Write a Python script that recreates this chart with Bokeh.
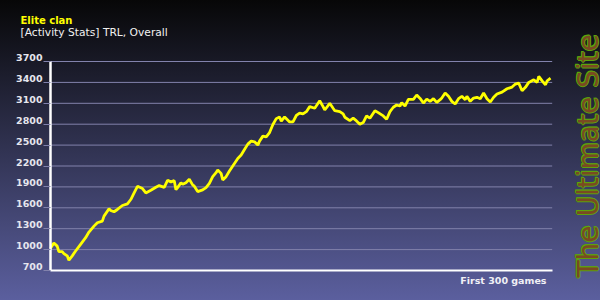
import math
from bokeh.plotting import figure
from bokeh.models import Range1d, LinearAxis, FixedTicker, Label, ColumnDataSource
from bokeh.embed import file_html
from bokeh.resources import INLINE

# ---- data ----
games = [1, 3, 5, 6, 8, 9, 11, 12, 14, 16, 19, 22, 24, 27, 29, 32, 33, 36, 37, 39,
         41, 44, 47, 49, 51, 53, 56, 58, 61, 64, 66, 69, 71, 73, 75, 76, 77, 79, 80, 82,
         84, 86, 87, 89, 92, 94, 96, 98, 100, 101, 103, 104, 106, 108, 111, 113, 115, 117, 119, 121,
         123, 125, 126, 128, 130, 132, 134, 136, 138, 139, 141, 144, 146, 148, 150, 152, 154, 156, 159, 162,
         164, 165, 168, 170, 171, 174, 176, 177, 180, 182, 184, 186, 188, 190, 192, 195, 197, 200, 202, 204,
         206, 208, 210, 211, 213, 215, 218, 220, 222, 224, 226, 228, 230, 232, 234, 235, 237, 239, 241, 243,
         245, 247, 249, 250, 252, 254, 256, 258, 260, 262, 264, 266, 268, 271, 274, 277, 279, 281, 283, 285,
         287, 290, 292, 293, 295, 297, 298, 300]
rating = [1020, 1095, 1050, 970, 970, 943, 910, 847, 910, 980, 1076, 1171, 1252, 1337, 1386, 1409, 1480, 1586, 1562, 1543,
          1576, 1633, 1657, 1719, 1814, 1909, 1876, 1814, 1852, 1894, 1919, 1894, 1995, 1972, 1990, 1860, 1890, 1960, 1937, 1961,
          2009, 1929, 1910, 1833, 1857, 1890, 1951, 2047, 2104, 2143, 2094, 2000, 2047, 2128, 2237, 2309, 2357, 2437, 2514, 2557,
          2547, 2500, 2557, 2629, 2619, 2680, 2795, 2880, 2905, 2843, 2905, 2833, 2833, 2925, 2960, 2947, 2980, 3052, 3029, 3137,
          3052, 3004, 3100, 3029, 2994, 2980, 2947, 2900, 2852, 2886, 2847, 2800, 2823, 2919, 2886, 2994, 2966, 2919, 2871, 2980,
          3043, 3076, 3061, 3109, 3061, 3157, 3157, 3219, 3170, 3104, 3161, 3128, 3166, 3114, 3152, 3176, 3247, 3200, 3128, 3090,
          3166, 3200, 3152, 3200, 3128, 3176, 3186, 3166, 3247, 3166, 3119, 3186, 3233, 3261, 3309, 3333, 3376, 3390, 3280, 3329,
          3400, 3437, 3400, 3486, 3423, 3366, 3423, 3460]
y_ticks = [700, 1000, 1300, 1600, 1900, 2200, 2500, 2800, 3100, 3400, 3700]
x_first, x_last = 1, 300
title_text = "Elite clan"
subtitle_text = "[Activity Stats] TRL, Overall"
x_text = "First 300 games"
watermark = "The Ultimate Site"

GRID = "#8282ac"
FONT = "DejaVu Sans"

# The frame fills the whole 600x300 canvas; data area spans pixels x 50..550, y 61..270.
XPP = (x_last - x_first) / 500.0          # games per pixel
YPP = (y_ticks[-1] - y_ticks[0]) / 209.0   # rating per pixel
x_range = Range1d(x_first - 50 * XPP, x_last + 50 * XPP)
y_range = Range1d(y_ticks[0] - 30 * YPP, y_ticks[-1] + 61 * YPP)

p = figure(width=600, height=300, output_backend="svg", toolbar_location=None,
           x_range=x_range, y_range=y_range,
           x_axis_location=None, y_axis_location=None,
           min_border=0, min_border_left=0, min_border_right=0,
           min_border_top=0, min_border_bottom=0)
p.background_fill_color = None
p.border_fill_color = None
p.outline_line_color = None
p.styles = {"background": "linear-gradient(180deg, #070707 0%, #5b5f9e 100%)"}
p.xgrid.visible = False
p.ygrid.visible = False

# horizontal grid lines, limited to the data area
p.segment(x0=[x_first] * len(y_ticks), x1=[x_last + 1] * len(y_ticks),
          y0=y_ticks, y1=y_ticks, line_color=GRID, line_width=1)

# y axis: white line + tick stubs (labels drawn by a second, shifted axis)
ya = LinearAxis(fixed_location=x_first, bounds=(y_ticks[0], y_ticks[-1]),
                ticker=FixedTicker(ticks=y_ticks))
ya.axis_line_color = "white"
ya.axis_line_width = 2.5
ya.major_tick_line_color = GRID
ya.major_tick_in = 0
ya.major_tick_out = 7
ya.minor_tick_line_color = None
ya.major_label_overrides = {t: "" for t in y_ticks}
p.add_layout(ya, "left")

# labels sit on their grid line: same scale, shifted by 4 px
shift = 4 * YPP
p.extra_y_ranges = {"lab": Range1d(y_range.start - shift, y_range.end - shift)}
la = LinearAxis(fixed_location=x_first, y_range_name="lab",
                ticker=FixedTicker(ticks=y_ticks))
la.axis_line_color = None
la.major_tick_line_color = None
la.major_tick_in = 0
la.major_tick_out = 7
la.minor_tick_line_color = None
la.major_label_standoff = 1
la.major_label_text_color = "#e6e6ee"
la.major_label_text_font = FONT
la.major_label_text_font_style = "bold"
la.major_label_text_font_size = "9.5px"
p.add_layout(la, "left")

# x axis: just the white base line
xa = LinearAxis(fixed_location=y_ticks[0], bounds=(x_first, x_last + 1),
                ticker=FixedTicker(ticks=[]))
xa.axis_line_color = "white"
xa.axis_line_width = 2
xa.major_tick_line_color = None
xa.minor_tick_line_color = None
xa.major_label_text_font_size = "0px"
p.add_layout(xa, "below")

# series
src = ColumnDataSource(dict(game=games, rating=rating))
p.line("game", "rating", source=src, line_color="#ffff00", line_width=2.8)

# titles
p.add_layout(Label(x=x_first, y=y_ticks[-1], x_offset=-30, y_offset=41, text=title_text,
                   text_color="#ffff00", text_font=FONT, text_font_style="bold",
                   text_font_size="10px", text_baseline="alphabetic"))
p.add_layout(Label(x=x_first, y=y_ticks[-1], x_offset=-30, y_offset=29, text=subtitle_text,
                   text_color="#f0f0f0", text_font=FONT,
                   text_font_size="10.7px", text_baseline="alphabetic"))
p.add_layout(Label(x=x_last, y=y_ticks[0], x_offset=-4, y_offset=-10, text=x_text,
                   text_color="#f0f0f5", text_font=FONT, text_font_style="bold",
                   text_font_size="9.5px", text_align="right", text_baseline="alphabetic"))

# vertical watermark: brown letters with a thin green rim
WX = 38
for dx, dy in [(-1, 0), (1, 0), (0, -1), (0, 1), (-1.2, 1.2)]:
    p.add_layout(Label(x=x_last, y=y_ticks[0], x_offset=WX + dx, y_offset=-7 + dy, text=watermark,
                       angle=math.pi / 2, text_color="#5ea30a", text_font=FONT,
                       text_font_size="28px", text_align="left", text_baseline="alphabetic"))
p.add_layout(Label(x=x_last, y=y_ticks[0], x_offset=WX, y_offset=-7, text=watermark,
                   angle=math.pi / 2, text_color="#7a4a22", text_font=FONT,
                   text_font_size="28px", text_align="left", text_baseline="alphabetic"))

open("out.html", "w").write(file_html(p, INLINE))
